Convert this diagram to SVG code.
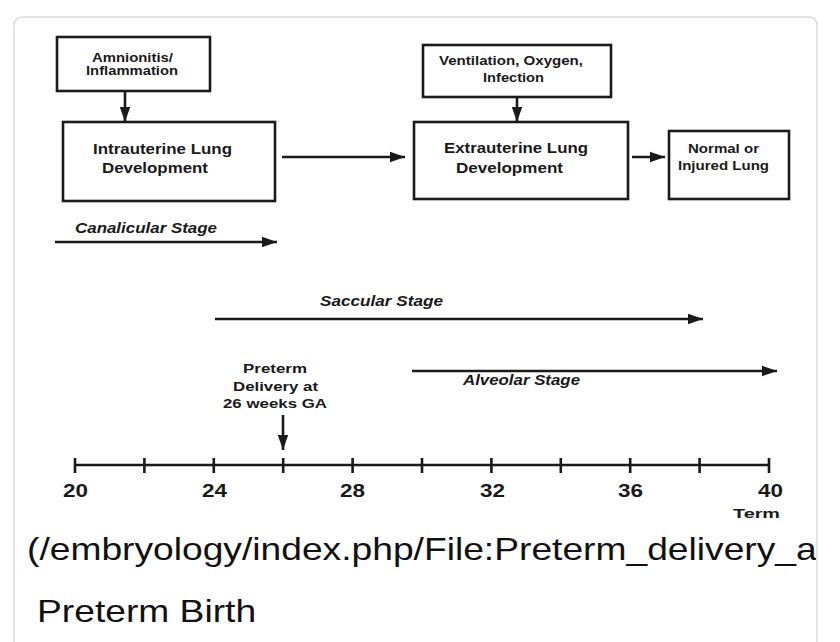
<svg xmlns="http://www.w3.org/2000/svg" width="840" height="642" viewBox="0 0 840 642">
<style>
.box{fill:#fff;stroke:#1a1a1a;stroke-width:2.6}
.ln{stroke:#1a1a1a;stroke-width:2.6;fill:none}
.t{font-family:"Liberation Sans",Arial,Helvetica,sans-serif;font-weight:bold;fill:#1a1a1a}
.it{font-style:italic}
.cap{font-family:"Liberation Sans",Arial,Helvetica,sans-serif;fill:#111}
</style>
<defs>
<marker id="ah" markerUnits="userSpaceOnUse" markerWidth="16" markerHeight="12" refX="15" refY="6" orient="auto">
<path d="M0,0.8 L15,6 L0,11.2 Z" fill="#1a1a1a"/>
</marker>
<clipPath id="cardclip"><rect x="14" y="17" width="802" height="640"/></clipPath>
</defs>
<rect width="840" height="642" fill="#fff"/>
<rect x="14" y="17" width="803" height="700" rx="8" fill="#fff" stroke="#dcdcdc" stroke-width="1.6"/>

<g id="n-amnionitis">
<rect class="box" x="57" y="37" width="153" height="54"/>
<text class="t" x="92" y="62" font-size="12.5" textLength="81" lengthAdjust="spacingAndGlyphs">Amnionitis/</text>
<text class="t" x="86" y="75" font-size="12.5" textLength="92" lengthAdjust="spacingAndGlyphs">Inflammation</text>
</g>
<g id="n-intrauterine">
<rect class="box" x="63" y="122" width="212" height="79"/>
<text class="t" x="93" y="154" font-size="15" textLength="139" lengthAdjust="spacingAndGlyphs">Intrauterine Lung</text>
<text class="t" x="102" y="173" font-size="15" textLength="106" lengthAdjust="spacingAndGlyphs">Development</text>
</g>
<g id="n-ventilation">
<rect class="box" x="423" y="45" width="188" height="52"/>
<text class="t" x="439" y="65" font-size="12.5" textLength="144" lengthAdjust="spacingAndGlyphs">Ventilation, Oxygen,</text>
<text class="t" x="483" y="82" font-size="12.5" textLength="61" lengthAdjust="spacingAndGlyphs">Infection</text>
</g>
<g id="n-extrauterine">
<rect class="box" x="414" y="122" width="214" height="77"/>
<text class="t" x="444" y="153" font-size="15" textLength="144" lengthAdjust="spacingAndGlyphs">Extrauterine Lung</text>
<text class="t" x="456" y="173" font-size="15" textLength="107" lengthAdjust="spacingAndGlyphs">Development</text>
</g>
<g id="n-outcome">
<rect class="box" x="669" y="131" width="120" height="68"/>
<text class="t" x="688" y="153" font-size="12.5" textLength="71" lengthAdjust="spacingAndGlyphs">Normal or</text>
<text class="t" x="678" y="170" font-size="12.5" textLength="91" lengthAdjust="spacingAndGlyphs">Injured Lung</text>
</g>

<g id="stages">
<text class="t it" x="75" y="233" font-size="14" textLength="142" lengthAdjust="spacingAndGlyphs">Canalicular Stage</text>
<text class="t it" x="320" y="306" font-size="14" textLength="123" lengthAdjust="spacingAndGlyphs">Saccular Stage</text>
<text class="t it" x="463" y="385" font-size="14" textLength="117" lengthAdjust="spacingAndGlyphs">Alveolar Stage</text>
</g>

<g id="n-preterm">
<text class="t" x="243" y="373" font-size="13.5" textLength="64" lengthAdjust="spacingAndGlyphs">Preterm</text>
<text class="t" x="233" y="391" font-size="13.5" textLength="85" lengthAdjust="spacingAndGlyphs">Delivery at</text>
<text class="t" x="223" y="408" font-size="13.5" textLength="104" lengthAdjust="spacingAndGlyphs">26 weeks GA</text>
</g>

<g id="connectors">
<line class="ln" x1="125" y1="91" x2="125" y2="122" marker-end="url(#ah)"/>
<line class="ln" x1="282" y1="157" x2="405" y2="157" marker-end="url(#ah)"/>
<line class="ln" x1="517" y1="97" x2="517" y2="122" marker-end="url(#ah)"/>
<line class="ln" x1="632" y1="157" x2="665" y2="157" marker-end="url(#ah)"/>
<line class="ln" x1="55" y1="242" x2="277" y2="242" marker-end="url(#ah)"/>
<line class="ln" x1="215" y1="319" x2="703" y2="319" marker-end="url(#ah)"/>
<line class="ln" x1="412" y1="371" x2="777" y2="371" marker-end="url(#ah)"/>
<line class="ln" x1="283" y1="415" x2="283" y2="450" marker-end="url(#ah)"/>
</g>

<g id="axis">
<line class="ln" x1="75" y1="465" x2="769" y2="465"/>
<path class="ln" d="M75,458V473 M144.4,458V473 M213.8,458V473 M283.2,458V473 M352.6,458V473 M422,458V473 M491.4,458V473 M560.8,458V473 M630.2,458V473 M699.6,458V473 M769,458V473"/>
<text class="t" x="63" y="497" font-size="19" textLength="25" lengthAdjust="spacingAndGlyphs">20</text>
<text class="t" x="202" y="497" font-size="19" textLength="25" lengthAdjust="spacingAndGlyphs">24</text>
<text class="t" x="340" y="497" font-size="19" textLength="25" lengthAdjust="spacingAndGlyphs">28</text>
<text class="t" x="480" y="497" font-size="19" textLength="25" lengthAdjust="spacingAndGlyphs">32</text>
<text class="t" x="618" y="497" font-size="19" textLength="25" lengthAdjust="spacingAndGlyphs">36</text>
<text class="t" x="758" y="497" font-size="19" textLength="25" lengthAdjust="spacingAndGlyphs">40</text>
<text class="t" x="733" y="518" font-size="13" textLength="47" lengthAdjust="spacingAndGlyphs">Term</text>
</g>

<g id="caption" clip-path="url(#cardclip)">
<text class="cap" transform="translate(27,560) scale(1.2,1)" font-size="31">(/embryology/index.php/File:Preterm_delivery_a</text>
<text class="cap" transform="translate(37,622) scale(1.2,1)" font-size="31">Preterm Birth</text>
</g>
</svg>
